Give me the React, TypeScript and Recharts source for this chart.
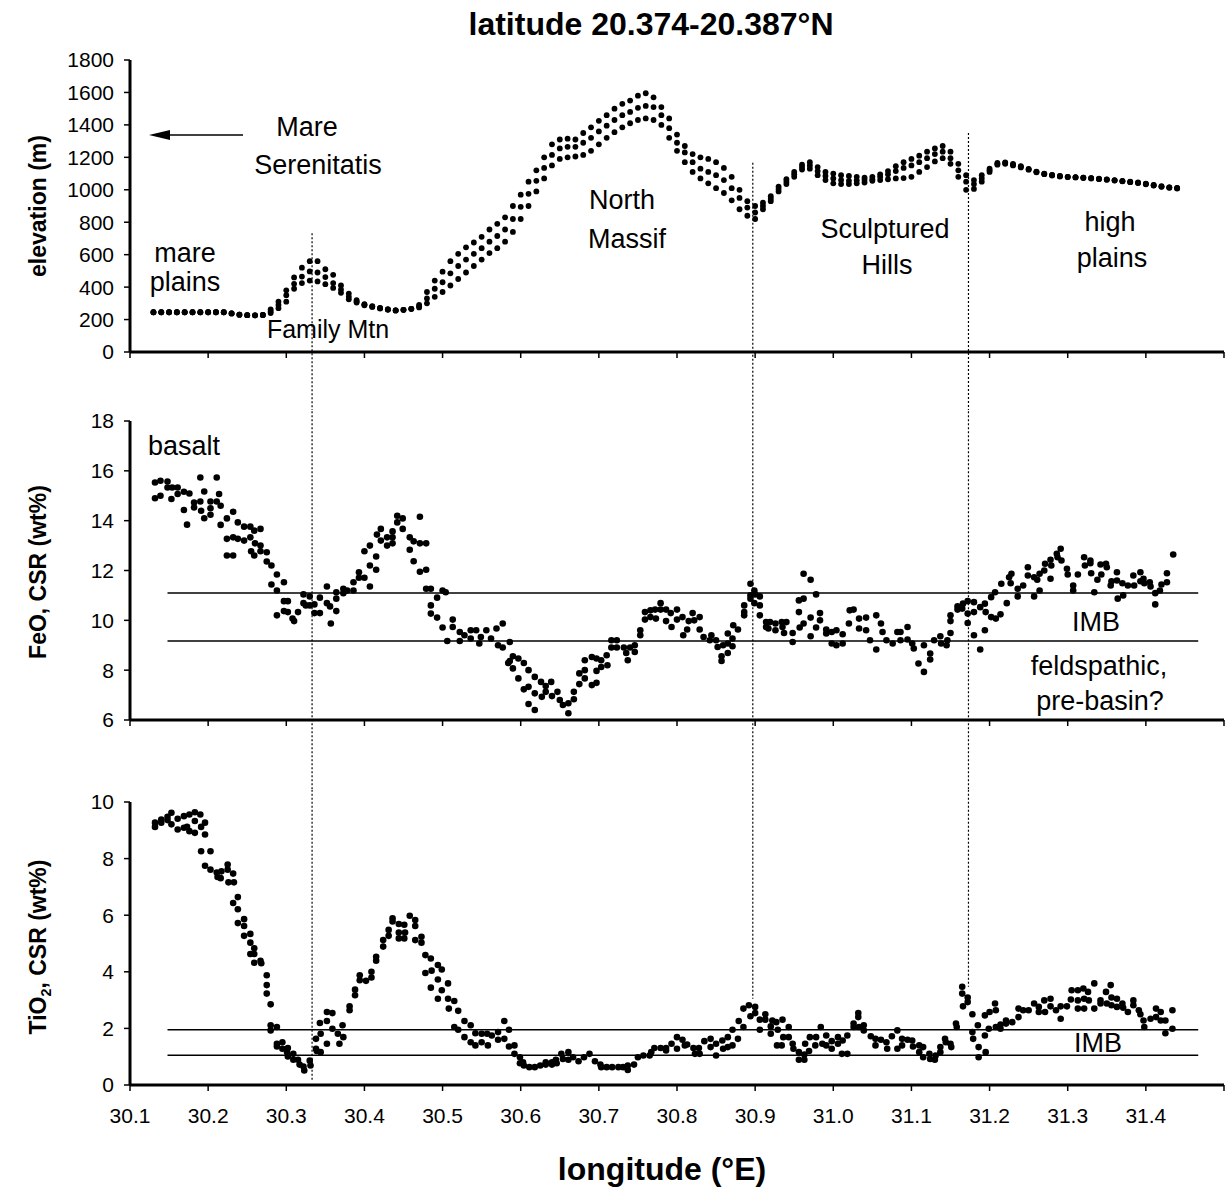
import React from 'react';
import { ScatterChart, Scatter, XAxis, YAxis, ReferenceLine } from 'recharts';

const FONT = '"Liberation Sans", Arial, Helvetica, sans-serif';

// x ticks shared by the three panels
const lonTicks = [30.1, 30.2, 30.3, 30.4, 30.5, 30.6, 30.7, 30.8, 30.9, 31.0, 31.1, 31.2, 31.3, 31.4, 31.5];
const elevTicks = [0, 200, 400, 600, 800, 1000, 1200, 1400, 1600, 1800];
const feoTicks = [6, 8, 10, 12, 14, 16, 18];
const tiTicks = [0, 2, 4, 6, 8, 10];

// elevation profile, three neighbouring tracks
const elevLon = [
  30.13, 30.14, 30.15, 30.16, 30.17, 30.18, 30.19, 30.2, 30.21, 30.22,
  30.23, 30.24, 30.25, 30.26, 30.27, 30.28, 30.29, 30.3, 30.31, 30.32,
  30.33, 30.34, 30.35, 30.36, 30.37, 30.38, 30.39, 30.4, 30.41, 30.42,
  30.43, 30.44, 30.45, 30.46, 30.47, 30.48, 30.49, 30.5, 30.51, 30.52,
  30.53, 30.54, 30.55, 30.56, 30.57, 30.58, 30.59, 30.6, 30.61, 30.62,
  30.63, 30.64, 30.65, 30.66, 30.67, 30.68, 30.69, 30.7, 30.71, 30.72,
  30.73, 30.74, 30.75, 30.76, 30.77, 30.78, 30.79, 30.8, 30.81, 30.82,
  30.83, 30.84, 30.85, 30.86, 30.87, 30.88, 30.89, 30.9, 30.91, 30.92,
  30.93, 30.94, 30.95, 30.96, 30.97, 30.98, 30.99, 31.0, 31.01, 31.02,
  31.03, 31.04, 31.05, 31.06, 31.07, 31.08, 31.09, 31.1, 31.11, 31.12,
  31.13, 31.14, 31.15, 31.16, 31.17, 31.18, 31.19, 31.2, 31.21, 31.22,
  31.23, 31.24, 31.25, 31.26, 31.27, 31.28, 31.29, 31.3, 31.31, 31.32,
  31.33, 31.34, 31.35, 31.36, 31.37, 31.38, 31.39, 31.4, 31.41, 31.42,
  31.43, 31.44,
];
const elevUpper = [
  245, 245, 245, 245, 245, 245, 245, 245, 245, 245,
  238, 230, 227, 226, 228, 262, 310, 380, 460, 520,
  560, 560, 510, 476, 410, 360, 320, 295, 282, 272,
  262, 256, 260, 266, 290, 370, 440, 495, 560, 605,
  645, 675, 710, 755, 790, 830, 900, 970, 1050, 1120,
  1200, 1280, 1310, 1315, 1310, 1350, 1385, 1425, 1460, 1500,
  1530, 1550, 1580, 1595, 1570, 1510, 1440, 1340, 1270, 1220,
  1200, 1190, 1170, 1135, 1080, 1000, 930, 900, 920, 960,
  1020, 1065, 1110, 1155, 1170, 1140, 1110, 1100, 1090, 1085,
  1080, 1075, 1080, 1095, 1115, 1145, 1170, 1190, 1210, 1235,
  1255, 1270, 1235, 1160, 1090, 1060, 1090, 1130, 1165, 1168,
  1160, 1145, 1128, 1112, 1100, 1092, 1085, 1080, 1078, 1075,
  1072, 1068, 1064, 1060, 1055, 1050, 1045, 1038, 1030, 1022,
  1015, 1012,
];
const elevMiddle = [
  245, 245, 245, 245, 245, 245, 245, 245, 245, 245,
  238, 230, 227, 226, 228, 250, 290, 350, 420, 465,
  497, 490, 462, 425, 385, 340, 312, 292, 280, 270,
  262, 256, 260, 266, 282, 330, 390, 430, 485, 530,
  570, 605, 640, 680, 715, 755, 820, 895, 975, 1055,
  1135, 1215, 1255, 1265, 1265, 1290, 1320, 1360, 1395, 1430,
  1460, 1480, 1505, 1517, 1510, 1460, 1380, 1290, 1230, 1170,
  1130, 1110, 1090, 1060, 1010, 950, 890, 860, 900, 945,
  1005, 1050, 1095, 1140, 1150, 1115, 1085, 1070, 1060, 1055,
  1058, 1062, 1065, 1080, 1095, 1115, 1135, 1150, 1170, 1195,
  1220, 1235, 1195, 1120, 1050, 1035, 1070, 1120, 1160, 1165,
  1155, 1142, 1126, 1110, 1098, 1090, 1084, 1079, 1077, 1074,
  1071, 1067, 1063, 1058, 1053, 1048, 1043, 1036, 1028, 1020,
  1014, 1010,
];
const elevLower = [
  245, 245, 245, 245, 245, 245, 245, 245, 245, 245,
  238, 230, 227, 226, 228, 240, 270, 310, 390, 425,
  440, 435, 418, 395, 365, 325, 305, 288, 278, 268,
  262, 256, 260, 266, 275, 300, 340, 370, 410, 450,
  490, 530, 570, 610, 640, 680, 740, 820, 900, 990,
  1070, 1150, 1190, 1200, 1205, 1215, 1240, 1280, 1320, 1355,
  1385, 1410, 1430, 1440, 1430, 1400, 1320, 1240, 1170, 1110,
  1070, 1040, 1010, 980, 935, 880, 840, 820, 880, 930,
  990, 1035, 1080, 1125, 1130, 1090, 1060, 1040, 1035, 1035,
  1040, 1045, 1055, 1060, 1065, 1070, 1072, 1080, 1110, 1140,
  1175, 1195, 1160, 1080, 1000, 1005, 1050, 1110, 1155, 1160,
  1150, 1138, 1124, 1108, 1096, 1088, 1082, 1078, 1076, 1073,
  1070, 1066, 1062, 1057, 1052, 1047, 1042, 1034, 1026, 1018,
  1013, 1008,
];

// FeO, CSR (wt%) as [longitude, value]
const feoWest: [number, number][] = [
  [30.132, 15.53], [30.132, 14.9], [30.139, 15.6], [30.139, 15.0], [30.148, 15.57], [30.148, 15.33],
  [30.153, 14.87], [30.154, 15.33], [30.161, 15.07], [30.161, 15.33], [30.169, 15.16], [30.169, 14.43],
  [30.173, 13.84], [30.176, 15.09], [30.182, 14.73], [30.182, 14.53], [30.19, 15.73], [30.19, 14.77],
  [30.191, 14.4], [30.195, 15.17], [30.195, 14.1], [30.203, 14.5], [30.203, 14.77], [30.203, 14.24],
  [30.211, 15.73], [30.211, 14.77], [30.214, 15.07], [30.216, 14.6], [30.216, 13.83], [30.224, 14.09],
  [30.224, 13.27], [30.224, 12.6], [30.232, 14.36], [30.232, 13.33], [30.232, 12.6], [30.238, 13.27],
  [30.238, 13.93], [30.246, 13.76], [30.246, 13.2], [30.254, 13.76], [30.254, 13.33], [30.255, 12.77],
  [30.259, 13.6], [30.259, 12.6], [30.26, 13.09], [30.267, 13.67], [30.267, 13.0], [30.267, 12.77],
  [30.275, 12.73], [30.275, 12.36], [30.281, 12.2], [30.281, 11.44], [30.288, 11.84], [30.288, 11.2],
  [30.288, 10.2], [30.297, 11.53], [30.297, 10.77], [30.297, 10.37], [30.302, 10.77], [30.302, 10.33],
  [30.308, 10.07], [30.31, 9.97], [30.315, 10.33], [30.322, 11.04], [30.322, 10.69], [30.325, 10.6],
  [30.33, 10.96], [30.33, 10.6], [30.336, 10.29], [30.336, 10.64], [30.343, 10.91], [30.343, 10.29],
  [30.352, 11.36], [30.352, 10.69], [30.356, 10.56], [30.357, 9.87], [30.364, 11.13], [30.364, 10.87],
  [30.364, 10.37], [30.373, 11.27], [30.373, 11.09], [30.378, 11.2], [30.386, 11.53], [30.386, 11.2],
  [30.393, 11.93], [30.393, 11.71], [30.4, 11.71], [30.4, 12.77], [30.407, 11.36], [30.407, 12.2],
  [30.407, 13.0], [30.415, 12.03], [30.415, 12.56], [30.416, 13.44], [30.421, 13.67], [30.421, 13.2],
  [30.429, 13.33], [30.429, 13.0], [30.436, 13.33], [30.436, 13.09], [30.436, 13.57], [30.442, 14.2],
  [30.442, 13.93], [30.449, 14.09], [30.449, 13.67],
];
const feoMid: [number, number][] = [
  [30.458, 13.33], [30.458, 12.83], [30.463, 13.17], [30.463, 12.37], [30.471, 14.16], [30.471, 13.09],
  [30.471, 11.95], [30.479, 13.09], [30.479, 12.03], [30.479, 11.27], [30.485, 11.27], [30.485, 10.6],
  [30.485, 10.27], [30.493, 10.91], [30.493, 10.11], [30.5, 11.2], [30.5, 9.71], [30.504, 11.13],
  [30.506, 9.17], [30.513, 10.03], [30.513, 9.73], [30.522, 9.53], [30.522, 9.17], [30.528, 9.4],
  [30.536, 9.6], [30.536, 9.27], [30.543, 9.6], [30.547, 9.07], [30.549, 9.33], [30.556, 9.6],
  [30.562, 9.27], [30.569, 9.67], [30.571, 9.0], [30.577, 9.87], [30.577, 8.91], [30.584, 8.29],
  [30.586, 9.13], [30.586, 8.37], [30.59, 8.07], [30.59, 8.56], [30.597, 8.47], [30.597, 7.67],
  [30.604, 8.29], [30.604, 7.23], [30.61, 8.0], [30.61, 6.64], [30.61, 7.33], [30.618, 7.73],
  [30.618, 7.07], [30.618, 6.4], [30.626, 7.53], [30.627, 6.93], [30.632, 7.36], [30.632, 7.13],
  [30.639, 7.53], [30.64, 6.96], [30.647, 7.13], [30.65, 6.8], [30.654, 6.6], [30.661, 6.67],
  [30.661, 6.27], [30.668, 7.13], [30.668, 6.83], [30.675, 7.87], [30.675, 7.44], [30.682, 8.4],
  [30.682, 8.0], [30.682, 7.67], [30.691, 8.53], [30.691, 7.4], [30.697, 8.47], [30.697, 7.97],
  [30.697, 7.49], [30.703, 8.13], [30.703, 8.4], [30.71, 8.6], [30.711, 8.2], [30.716, 9.2],
  [30.716, 8.91], [30.723, 9.2], [30.723, 8.91], [30.732, 8.91], [30.735, 8.69], [30.737, 8.4],
  [30.74, 8.91], [30.746, 9.0], [30.746, 8.73], [30.753, 9.6], [30.753, 9.4], [30.759, 10.03],
  [30.759, 10.33], [30.766, 10.4], [30.766, 10.13], [30.772, 10.43], [30.773, 10.07], [30.779, 10.69],
  [30.779, 10.43], [30.786, 10.43], [30.786, 9.97], [30.792, 10.29], [30.793, 9.73],
];
const feoEast: [number, number][] = [
  [30.8, 10.43], [30.8, 10.03], [30.807, 10.13], [30.808, 9.4], [30.813, 9.63], [30.815, 9.97],
  [30.82, 10.29], [30.822, 10.0], [30.829, 10.13], [30.829, 9.63], [30.834, 9.33], [30.842, 9.2],
  [30.844, 9.4], [30.85, 9.2], [30.852, 8.93], [30.857, 8.56], [30.857, 8.37], [30.859, 9.0],
  [30.865, 9.47], [30.865, 9.07], [30.865, 8.69], [30.871, 9.27], [30.871, 8.96], [30.872, 9.8],
  [30.878, 9.63], [30.886, 10.6], [30.886, 10.2], [30.886, 10.33], [30.894, 11.47], [30.894, 11.0],
  [30.894, 10.87], [30.899, 11.2], [30.899, 10.69], [30.9, 11.04], [30.906, 10.96], [30.906, 10.6],
  [30.906, 10.2], [30.914, 9.93], [30.914, 9.73], [30.917, 9.67], [30.919, 9.93], [30.926, 9.87],
  [30.926, 9.6], [30.934, 9.93], [30.935, 9.73], [30.937, 9.49], [30.94, 9.93], [30.948, 9.49],
  [30.948, 9.13], [30.956, 10.8], [30.956, 10.33], [30.957, 9.71], [30.962, 11.87], [30.962, 10.87],
  [30.962, 9.87], [30.971, 11.63], [30.971, 10.11], [30.971, 9.36], [30.978, 11.04], [30.978, 9.71],
  [30.983, 10.29], [30.983, 10.0], [30.991, 9.63], [30.991, 9.47], [30.998, 9.53], [30.998, 9.07],
  [31.004, 9.0], [31.004, 9.6], [31.012, 9.44], [31.012, 9.07], [31.02, 9.87], [31.021, 10.4],
  [31.026, 10.43], [31.033, 10.07], [31.033, 9.67], [31.042, 10.11], [31.042, 9.6], [31.047, 9.2],
  [31.055, 10.2], [31.055, 8.83], [31.061, 9.87], [31.063, 9.53], [31.068, 9.2], [31.076, 9.07],
  [31.082, 9.53],
];
const feoHigh: [number, number][] = [
  [31.086, 9.53], [31.086, 9.2], [31.095, 9.73], [31.095, 9.23], [31.101, 9.07], [31.103, 8.87],
  [31.109, 8.27], [31.116, 7.93], [31.116, 9.0], [31.124, 8.43], [31.124, 8.67], [31.129, 9.2],
  [31.137, 9.36], [31.138, 9.07], [31.145, 9.0], [31.146, 9.2], [31.15, 9.49], [31.15, 9.97],
  [31.15, 10.2], [31.159, 10.43], [31.159, 10.56], [31.165, 10.47], [31.166, 10.67], [31.172, 10.77],
  [31.172, 10.27], [31.172, 9.89], [31.18, 10.73], [31.18, 9.4], [31.18, 10.33], [31.188, 8.83],
  [31.188, 10.53], [31.194, 9.6], [31.194, 10.67], [31.195, 10.33], [31.202, 10.93], [31.202, 10.13],
  [31.207, 11.13], [31.208, 10.07], [31.214, 10.24], [31.215, 11.47], [31.222, 10.69], [31.225, 11.73],
  [31.227, 11.49], [31.228, 11.87], [31.236, 11.27], [31.236, 10.96], [31.243, 11.4], [31.249, 12.13],
  [31.249, 11.8], [31.257, 11.73], [31.257, 10.96], [31.261, 11.63], [31.264, 11.87], [31.264, 11.2],
  [31.27, 12.0], [31.271, 12.27], [31.278, 11.67], [31.278, 12.43], [31.279, 12.2], [31.286, 12.67],
  [31.287, 12.53], [31.291, 12.87], [31.292, 12.4], [31.299, 12.07], [31.3, 11.84], [31.307, 11.4],
  [31.307, 11.2], [31.313, 11.84], [31.321, 12.53], [31.322, 12.2], [31.329, 12.4], [31.329, 12.29],
  [31.33, 11.89], [31.334, 11.13], [31.338, 11.63], [31.342, 12.24], [31.343, 11.84], [31.349, 12.27],
  [31.35, 12.13], [31.355, 11.4], [31.356, 11.57], [31.363, 11.93], [31.363, 11.6], [31.364, 10.87],
  [31.37, 11.49], [31.371, 11.0], [31.377, 11.4], [31.384, 11.8], [31.385, 11.4], [31.393, 11.93],
  [31.393, 11.57], [31.397, 11.67], [31.398, 11.49], [31.405, 11.53], [31.406, 11.36], [31.412, 11.09],
  [31.412, 10.64], [31.418, 11.2], [31.42, 11.44], [31.427, 11.89], [31.427, 11.53], [31.435, 12.64],
];

// TiO2, CSR (wt%) as [longitude, value]
const tiWest: [number, number][] = [
  [30.132, 9.27], [30.132, 9.12], [30.14, 9.38], [30.14, 9.27], [30.148, 9.48], [30.148, 9.36],
  [30.153, 9.62], [30.153, 9.21], [30.161, 9.41], [30.161, 9.03], [30.169, 9.5], [30.169, 9.09],
  [30.173, 9.12], [30.176, 9.56], [30.176, 8.97], [30.183, 9.64], [30.183, 9.33], [30.183, 8.91],
  [30.19, 9.56], [30.191, 9.12], [30.196, 9.27], [30.196, 8.85], [30.191, 8.26], [30.196, 7.75],
  [30.203, 8.26], [30.203, 7.61], [30.211, 7.51], [30.212, 7.35], [30.216, 7.31], [30.217, 7.55],
  [30.225, 7.79], [30.225, 7.61], [30.226, 7.16], [30.232, 7.47], [30.233, 7.16], [30.232, 6.43],
  [30.238, 6.64], [30.238, 6.21], [30.238, 5.72], [30.246, 5.86], [30.246, 5.62], [30.246, 5.27],
  [30.254, 5.34], [30.254, 5.03], [30.254, 4.63], [30.259, 4.83], [30.259, 4.63], [30.259, 4.32],
  [30.267, 4.39], [30.268, 4.3], [30.275, 3.88], [30.275, 3.53], [30.275, 3.23], [30.28, 2.85],
  [30.28, 2.11], [30.28, 1.93], [30.288, 2.05], [30.288, 1.46], [30.288, 1.36], [30.295, 1.51],
  [30.295, 1.28], [30.301, 1.16], [30.302, 1.31], [30.302, 1.01], [30.309, 1.1], [30.309, 0.89],
  [30.315, 0.89], [30.317, 0.72], [30.322, 0.65], [30.323, 0.51], [30.33, 0.86], [30.331, 0.69],
  [30.338, 1.63], [30.338, 1.28], [30.339, 1.2], [30.344, 1.81], [30.344, 1.16], [30.343, 2.19],
  [30.352, 2.26], [30.352, 1.46], [30.352, 2.58], [30.359, 2.54], [30.359, 1.99], [30.366, 1.81],
  [30.368, 1.46], [30.372, 2.11], [30.373, 1.69], [30.381, 2.78], [30.381, 2.64], [30.388, 3.37],
  [30.388, 3.17], [30.394, 3.88], [30.394, 3.7], [30.402, 3.68], [30.409, 4.0], [30.409, 3.8],
  [30.415, 4.53], [30.415, 4.39], [30.424, 5.12], [30.424, 4.89], [30.431, 5.48], [30.431, 5.27],
  [30.436, 5.89], [30.436, 5.78], [30.444, 5.39], [30.444, 5.18], [30.444, 5.69],
];
const tiMid: [number, number][] = [
  [30.451, 5.66], [30.452, 5.39], [30.451, 5.18], [30.458, 5.98], [30.465, 5.83], [30.465, 5.62],
  [30.465, 5.12], [30.473, 5.24], [30.473, 5.03], [30.478, 4.59], [30.478, 3.96], [30.485, 4.47],
  [30.486, 4.04], [30.485, 3.44], [30.494, 4.24], [30.494, 3.73], [30.494, 3.05], [30.499, 4.08],
  [30.499, 3.35], [30.507, 3.59], [30.507, 3.05], [30.508, 2.7], [30.515, 2.97], [30.515, 2.05],
  [30.52, 2.62], [30.52, 1.95], [30.528, 2.26], [30.528, 1.69], [30.536, 2.11], [30.536, 1.51],
  [30.542, 1.83], [30.542, 1.4], [30.55, 1.81], [30.55, 1.51], [30.557, 1.81], [30.558, 1.4],
  [30.563, 1.75], [30.571, 1.87], [30.571, 1.6], [30.579, 2.26], [30.579, 1.63], [30.585, 1.95],
  [30.585, 1.36], [30.592, 1.4], [30.592, 1.1], [30.599, 0.98], [30.599, 0.77], [30.603, 0.8],
  [30.604, 0.69], [30.611, 0.63], [30.618, 0.63], [30.625, 0.69], [30.632, 0.72], [30.632, 0.8],
  [30.64, 0.72], [30.64, 0.8], [30.645, 0.89], [30.646, 0.77], [30.652, 1.1], [30.654, 0.92],
  [30.661, 1.16], [30.661, 0.89], [30.667, 0.98], [30.674, 0.84], [30.681, 0.98], [30.688, 1.1],
  [30.695, 0.84], [30.702, 0.72], [30.703, 0.63], [30.71, 0.63], [30.717, 0.63], [30.725, 0.63],
  [30.731, 0.63], [30.737, 0.53], [30.737, 0.69], [30.745, 0.72], [30.75, 0.98], [30.757, 1.04],
  [30.765, 1.04], [30.767, 1.16], [30.771, 1.31], [30.779, 1.31], [30.786, 1.31], [30.786, 1.22],
  [30.793, 1.46],
];
const tiEast: [number, number][] = [
  [30.8, 1.69], [30.8, 1.28], [30.807, 1.6], [30.81, 1.4], [30.813, 1.43], [30.821, 1.31],
  [30.823, 1.1], [30.828, 1.31], [30.829, 1.1], [30.835, 1.55], [30.843, 1.63], [30.843, 1.34],
  [30.85, 1.04], [30.85, 1.46], [30.858, 1.57], [30.859, 1.28], [30.865, 1.69], [30.865, 1.34],
  [30.871, 1.4], [30.871, 1.95], [30.878, 1.63], [30.879, 2.26], [30.885, 2.05], [30.885, 2.7],
  [30.892, 2.82], [30.894, 2.43], [30.9, 2.76], [30.9, 2.54], [30.906, 2.31], [30.906, 1.95],
  [30.913, 2.31], [30.913, 2.5], [30.92, 2.07], [30.92, 1.81], [30.922, 2.28], [30.927, 2.22],
  [30.928, 1.4], [30.929, 1.95], [30.934, 1.4], [30.935, 2.31], [30.936, 1.69], [30.943, 2.05],
  [30.943, 1.69], [30.948, 1.46], [30.949, 1.28], [30.956, 0.89], [30.956, 1.16], [30.963, 1.08],
  [30.963, 0.89], [30.964, 1.46], [30.969, 1.2], [30.97, 1.69], [30.977, 1.4], [30.978, 1.69],
  [30.984, 2.05], [30.986, 1.46], [30.991, 1.4], [30.991, 1.75], [30.998, 1.55], [30.998, 1.28],
  [31.006, 1.69], [31.006, 1.46], [31.011, 1.1], [31.012, 1.57], [31.018, 1.75], [31.018, 1.1],
  [31.026, 2.17], [31.026, 2.05], [31.032, 2.54], [31.032, 2.4], [31.033, 2.05], [31.039, 2.11],
  [31.039, 1.93], [31.048, 1.72], [31.054, 1.63], [31.054, 1.4], [31.061, 1.6], [31.068, 1.51],
  [31.069, 1.28], [31.075, 1.72], [31.082, 1.93], [31.082, 1.28], [31.088, 1.63], [31.088, 1.4],
  [31.095, 1.6],
];
const tiHigh: [number, number][] = [
  [31.101, 1.57], [31.102, 1.36], [31.11, 1.4], [31.11, 1.16], [31.115, 1.34], [31.115, 0.98],
  [31.123, 1.1], [31.124, 0.92], [31.13, 0.89], [31.131, 1.04], [31.137, 1.34], [31.137, 1.16],
  [31.143, 1.63], [31.144, 1.51], [31.15, 1.46], [31.151, 1.34], [31.157, 2.17], [31.158, 2.05],
  [31.165, 3.47], [31.165, 3.23], [31.166, 2.78], [31.172, 3.09], [31.172, 2.93], [31.178, 2.5],
  [31.178, 1.87], [31.179, 1.63], [31.185, 2.11], [31.186, 1.34], [31.186, 0.98], [31.194, 2.46],
  [31.194, 1.75], [31.195, 1.16], [31.199, 1.99], [31.2, 2.58], [31.207, 2.88], [31.208, 2.64],
  [31.208, 2.05], [31.214, 2.14], [31.214, 1.99], [31.221, 2.28], [31.221, 2.17], [31.229, 2.22],
  [31.237, 2.4], [31.237, 2.7], [31.243, 2.64], [31.25, 2.64], [31.257, 2.88], [31.263, 2.76],
  [31.263, 2.58], [31.27, 2.99], [31.271, 2.58], [31.278, 3.05], [31.278, 2.78], [31.285, 2.64],
  [31.291, 2.78], [31.291, 2.34], [31.299, 2.78], [31.304, 3.02], [31.305, 3.35], [31.313, 3.35],
  [31.313, 2.99], [31.313, 2.7], [31.32, 3.41], [31.321, 3.05], [31.321, 2.7], [31.326, 3.29],
  [31.327, 2.99], [31.334, 3.59], [31.334, 2.7], [31.342, 2.88], [31.342, 2.99], [31.349, 3.29],
  [31.35, 2.88], [31.355, 3.53], [31.356, 3.09], [31.356, 2.82], [31.363, 3.05], [31.363, 2.76],
  [31.37, 2.88], [31.371, 2.73], [31.377, 2.58], [31.384, 2.99], [31.384, 2.82], [31.391, 2.64],
  [31.393, 2.5], [31.397, 2.28], [31.398, 2.05], [31.406, 2.34], [31.413, 2.7], [31.413, 2.4],
  [31.419, 2.58], [31.419, 2.28], [31.425, 2.28], [31.425, 1.83], [31.434, 2.64], [31.434, 1.99],
];

// IMB band limits and the unit boundaries (dotted lines)
const imbFeo = [9.17, 11.1];
const imbTi = [1.05, 1.95];
const imbLonRange = [30.148, 31.467];
const dividerLon = [30.333, 30.897, 31.173];
const dividerTopElev = [732, 1167, 1350];
const dividerBottomTi = [0.15, 3.05, 3.47];

const W = 1226;
const axisLine = { stroke: '#000', strokeWidth: 3 };
const tickLine = { stroke: '#000', strokeWidth: 1.5 };
const tickFont = { fill: '#000', fontSize: 21, fontFamily: FONT };

const toPts = (arr: [number, number][]) => arr.map(([x, y]) => ({ x, y }));
const track = (vals: number[]) => elevLon.map((x, i) => ({ x, y: vals[i] }));

const smallDot = (p: any) => <circle cx={p.cx} cy={p.cy} r={2.9} fill="#000" />;
const dot = (p: any) => <circle cx={p.cx} cy={p.cy} r={3.3} fill="#000" />;

function Txt({ x, base, size = 27, bold = false, children }: any) {
  return (
    <div
      style={{
        position: 'absolute', left: x, top: base - 0.85 * size, transform: 'translateX(-50%)',
        fontSize: size, lineHeight: 1, fontFamily: FONT, fontWeight: bold ? 700 : 400,
        whiteSpace: 'nowrap', color: '#000',
      }}
    >
      {children}
    </div>
  );
}

function RotTxt({ cx, cy, size = 23, children }: any) {
  return (
    <div
      style={{
        position: 'absolute', left: cx, top: cy, transform: 'translate(-50%, -50%) rotate(-90deg)',
        fontSize: size, lineHeight: 1, fontFamily: FONT, fontWeight: 700, whiteSpace: 'nowrap', color: '#000',
      }}
    >
      {children}
    </div>
  );
}

function Frame({ domain, ticks, labels }: { domain: [number, number]; ticks: number[]; labels: boolean }) {
  return [
    <XAxis
      key="xb" type="number" dataKey="x" domain={[30.1, 31.5]} ticks={lonTicks} interval={0}
      allowDataOverflow axisLine={axisLine} tickLine={tickLine} tickSize={6} tickMargin={17}
      tick={tickFont} tickFormatter={(v: number) => (labels && v < 31.45 ? v.toFixed(1) : '')}
    />,
    <XAxis
      key="xt" xAxisId="top" orientation="top" type="number" domain={[30.1, 31.5]} height={0}
      axisLine={axisLine} tick={false} tickLine={false}
    />,
    <YAxis
      key="yl" type="number" dataKey="y" domain={domain} ticks={ticks} interval={0} allowDataOverflow
      width={60} axisLine={axisLine} tickLine={tickLine} tickSize={6} tickMargin={10} tick={tickFont}
    />,
    <YAxis
      key="yr" yAxisId="right" orientation="right" type="number" domain={domain} width={0}
      axisLine={{ stroke: '#000', strokeWidth: 2 }} tick={false} tickLine={false}
    />,
  ];
}

function Divider({ lon, from, to }: { lon: number; from: number; to: number }) {
  return (
    <ReferenceLine
      segment={[{ x: lon, y: from }, { x: lon, y: to }]}
      stroke="#000" strokeWidth={1.2} strokeDasharray="2 2" ifOverflow="visible"
    />
  );
}

function ImbLine({ y }: { y: number }) {
  return (
    <ReferenceLine
      segment={[{ x: imbLonRange[0], y }, { x: imbLonRange[1], y }]}
      stroke="#000" strokeWidth={1.5} ifOverflow="visible"
    />
  );
}

export default function App() {
  return (
    <div style={{ position: 'absolute', left: 0, top: 0, width: W, height: 1187, background: '#fff', overflow: 'hidden' }}>
      <div style={{ position: 'absolute', left: 0, top: 0 }}>
        <ScatterChart width={W} height={410} margin={{ top: 60, right: 2, bottom: 28, left: 70 }}>
          {Frame({ domain: [0, 1800], ticks: elevTicks, labels: false })}
          {dividerLon.map((lon, i) => (
            <Divider key={i} lon={lon} from={dividerTopElev[i]} to={-600} />
          ))}
          <Scatter data={track(elevUpper)} shape={smallDot} isAnimationActive={false} />
          <Scatter data={track(elevMiddle)} shape={smallDot} isAnimationActive={false} />
          <Scatter data={track(elevLower)} shape={smallDot} isAnimationActive={false} />
        </ScatterChart>
      </div>

      <div style={{ position: 'absolute', left: 0, top: 410 }}>
        <ScatterChart width={W} height={380} margin={{ top: 11, right: 2, bottom: 40, left: 70 }}>
          {Frame({ domain: [6, 18], ticks: feoTicks, labels: false })}
          {dividerLon.map((lon, i) => (
            <Divider key={i} lon={lon} from={20} to={0} />
          ))}
          {imbFeo.map((y) => <ImbLine key={y} y={y} />)}
          <Scatter data={toPts(feoWest)} shape={dot} isAnimationActive={false} />
          <Scatter data={toPts(feoMid)} shape={dot} isAnimationActive={false} />
          <Scatter data={toPts(feoEast)} shape={dot} isAnimationActive={false} />
          <Scatter data={toPts(feoHigh)} shape={dot} isAnimationActive={false} />
        </ScatterChart>
      </div>

      <div style={{ position: 'absolute', left: 0, top: 790 }}>
        <ScatterChart width={W} height={397} margin={{ top: 12, right: 2, bottom: 72, left: 70 }}>
          {Frame({ domain: [0, 10], ticks: tiTicks, labels: true })}
          {dividerLon.map((lon, i) => (
            <Divider key={i} lon={lon} from={11} to={dividerBottomTi[i]} />
          ))}
          {imbTi.map((y) => <ImbLine key={y} y={y} />)}
          <Scatter data={toPts(tiWest)} shape={dot} isAnimationActive={false} />
          <Scatter data={toPts(tiMid)} shape={dot} isAnimationActive={false} />
          <Scatter data={toPts(tiEast)} shape={dot} isAnimationActive={false} />
          <Scatter data={toPts(tiHigh)} shape={dot} isAnimationActive={false} />
        </ScatterChart>
      </div>

      {/* titles */}
      <Txt x={651} base={35} size={32} bold>latitude 20.374-20.387°N</Txt>
      <Txt x={662} base={1180} size={32} bold>longitude (°E)</Txt>
      <RotTxt cx={38} cy={206}>elevation (m)</RotTxt>
      <RotTxt cx={38} cy={572}>FeO, CSR (wt%)</RotTxt>
      <RotTxt cx={38} cy={947}>
        TiO<sub style={{ fontSize: '0.62em', lineHeight: 0 }}>2</sub>, CSR (wt%)
      </RotTxt>

      {/* arrow to Mare Serenitatis */}
      <svg style={{ position: 'absolute', left: 0, top: 0 }} width={W} height={200}>
        <line x1={168} y1={135} x2={243} y2={135} stroke="#000" strokeWidth={1.5} />
        <polygon points="149,135 170,130 170,140" fill="#000" />
      </svg>

      {/* region names */}
      <Txt x={307} base={137}>Mare</Txt>
      <Txt x={318} base={175}>Serenitatis</Txt>
      <Txt x={185} base={263}>mare</Txt>
      <Txt x={185} base={292}>plains</Txt>
      <Txt x={328} base={338} size={25}>Family Mtn</Txt>
      <Txt x={622} base={210}>North</Txt>
      <Txt x={627} base={249}>Massif</Txt>
      <Txt x={885} base={239}>Sculptured</Txt>
      <Txt x={887} base={275}>Hills</Txt>
      <Txt x={1110} base={232}>high</Txt>
      <Txt x={1112} base={268}>plains</Txt>

      <Txt x={184} base={456}>basalt</Txt>
      <Txt x={1096} base={632}>IMB</Txt>
      <Txt x={1099} base={676}>feldspathic,</Txt>
      <Txt x={1100} base={711}>pre-basin?</Txt>
      <Txt x={1098} base={1053}>IMB</Txt>
    </div>
  );
}
